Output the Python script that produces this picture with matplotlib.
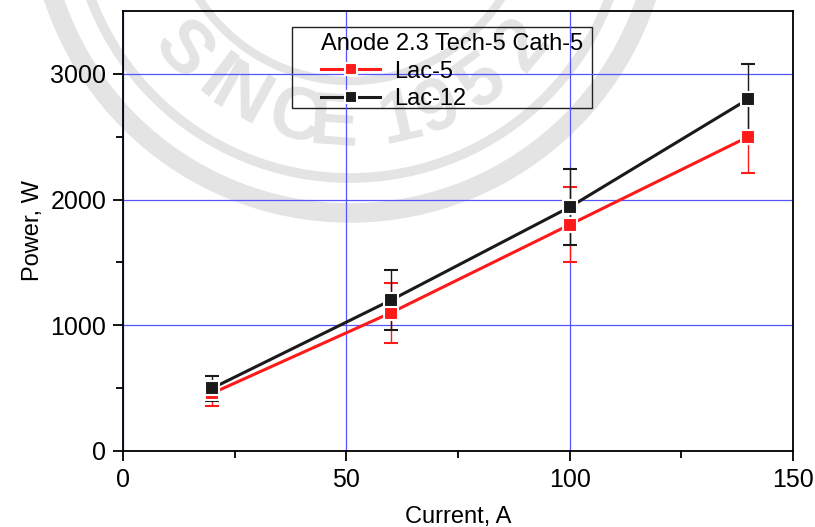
import numpy as np
import matplotlib
matplotlib.use("Agg")
import matplotlib.pyplot as plt
from matplotlib.patches import Arc, Rectangle
from matplotlib.lines import Line2D

plt.rcParams['font.family'] = ['Liberation Sans', 'DejaVu Sans']

# 測定データ
current = [20, 60, 100, 140]
lac5_power = [460, 1100, 1800, 2500]
lac5_err = [100, 240, 300, 290]
lac12_power = [500, 1200, 1940, 2800]
lac12_err = [100, 240, 300, 280]

legend_title = "Anode 2.3 Tech-5 Cath-5"
series_names = ["Lac-5", "Lac-12"]
series_colors = ['#ff1a1a', '#1a1a1a']

W, H = 815, 527
fig = plt.figure(figsize=(W / 100, H / 100), dpi=100)

# 背景のウォーターマーク（ピクセル座標）
bg = fig.add_axes([0, 0, 1, 1], zorder=0)
bg.set_xlim(0, W)
bg.set_ylim(H, 0)
bg.axis('off')
wm = '#e4e4e4'
cx, cy = 350, -99
for r, lw in [(180, 6), (277, 7), (312, 14)]:
    bg.add_patch(Arc((cx, cy), 2 * r, 2 * r, theta1=0, theta2=180, color=wm, lw=lw))
wm_chars = "SINCE1952"
wm_angles = [-48, -37, -29, -14, -4, 13, 23, 36, 50]
for ch, a in zip(wm_chars, wm_angles):
    t = np.deg2rad(a)
    bg.text(cx + 225 * np.sin(t), cy + 225 * np.cos(t), ch, rotation=a,
            ha='center', va='center', fontsize=54, fontweight='bold', color=wm)

# 凡例の枠（ピクセル座標）
bg.add_patch(Rectangle((292, 27), 300, 81, fill=False, ec='#222222', lw=1, zorder=5))

ax = fig.add_axes([123 / W, 1 - 451 / H, (793 - 123) / W, (451 - 11) / H], zorder=1)
ax.set_facecolor('none')

series = [(lac5_power, lac5_err), (lac12_power, lac12_err)]
for (power, err), color, name in zip(series, series_colors, series_names):
    ax.errorbar(current, power, yerr=err, color=color, lw=2.2, marker='s', ms=10,
                mec='white', mew=1.5, elinewidth=1, ecolor=color, capsize=5,
                capthick=1, zorder=3)

ax.set_xlim(0, 150)
ax.set_ylim(0, 3500)
ax.set_xticks([0, 50, 100, 150])
ax.set_xticks([25, 75, 125], minor=True)
ax.set_yticks([0, 1000, 2000, 3000])
ax.set_yticks([500, 1500, 2500], minor=True)
ax.tick_params(which='both', direction='out', labelsize=18, width=1.3, pad=5)
ax.tick_params(which='major', length=7)
ax.tick_params(which='minor', length=5)
ax.grid(True, which='major', color='#5555ff', lw=0.9)
for s in ax.spines.values():
    s.set_linewidth(1.3)

ax.set_xlabel("Current, A", fontsize=17)
ax.set_ylabel("Power, W", fontsize=17)
ax.xaxis.set_label_coords(0.5, -0.124)
ax.yaxis.set_label_coords(-0.118, 0.5)

# 凡例（エラーバーなしのハンドル、枠は上で描画）
handles = [Line2D([], [], color=c, lw=2.2, marker='s', ms=8, mec='white', mew=1.5)
           for c in series_colors]
leg = ax.legend(handles, series_names, title=legend_title, loc='upper left',
                bbox_to_anchor=((321 - 123) / 670, (451 - 33) / 440),
                fontsize=17, title_fontsize=17, frameon=False,
                handlelength=2.5, borderpad=0, labelspacing=0.24,
                handletextpad=0.6, borderaxespad=0)
leg._legend_box.align = 'left'

fig.savefig("out.png", dpi=100)
